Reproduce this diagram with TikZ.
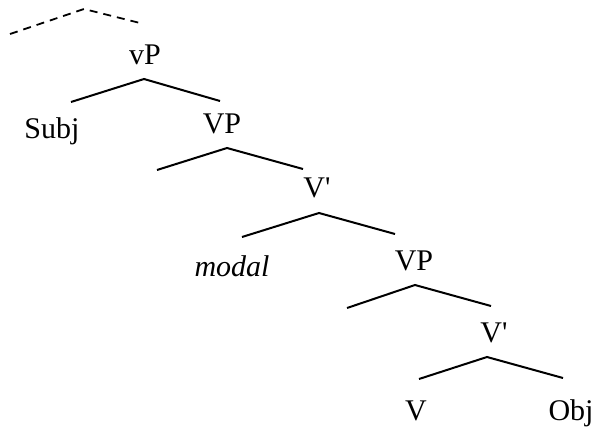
\documentclass[tikz,border=0pt]{standalone}
\usepackage{fontspec}
\setmainfont{Liberation Serif}
\begin{document}
\begin{tikzpicture}[x=1pt,y=-1pt,
  lbl/.style={anchor=base,inner sep=0pt,font=\fontsize{30}{36}\selectfont},
  branch/.style={line width=2pt},
  dashbranch/.style={line width=1.8pt,dash pattern=on 8pt off 6pt}]
\useasboundingbox (0,0) rectangle (599,428);
% labels
\node[lbl] (vP) at (145,64) {vP};
\node[lbl] (subj) at (52,138) {Subj};
\node[lbl] (VP1) at (222,133) {VP};
\node[lbl] (Vb1) at (317,197) {V\textquotesingle};
\node[lbl] (modal) at (232,276) {\itshape modal};
\node[lbl] (VP2) at (414,270) {VP};
\node[lbl] (Vb2) at (494,342) {V\textquotesingle};
\node[lbl] (V) at (416,420) {V};
\node[lbl] (obj) at (571,420) {Obj};
% branch points
\coordinate (d0) at (84,9);  \coordinate (dl) at (10,34); \coordinate (dr) at (144,24);
\coordinate (a1) at (144,79); \coordinate (l1) at (71,102); \coordinate (r1) at (220,101);
\coordinate (a2) at (227,148); \coordinate (l2) at (157,170); \coordinate (r2) at (303,169);
\coordinate (a3) at (319,213); \coordinate (l3) at (242,237); \coordinate (r3) at (395,234);
\coordinate (a4) at (415,285); \coordinate (l4) at (347,308); \coordinate (r4) at (491,306);
\coordinate (a5) at (487,357); \coordinate (l5) at (419,379); \coordinate (r5) at (563,378);
% connectors
\draw[dashbranch] (dl) -- (d0) -- (dr);
\draw[branch] (l1) -- (a1) -- (r1);
\draw[branch] (l2) -- (a2) -- (r2);
\draw[branch] (l3) -- (a3) -- (r3);
\draw[branch] (l4) -- (a4) -- (r4);
\draw[branch] (l5) -- (a5) -- (r5);
\end{tikzpicture}
\end{document}
